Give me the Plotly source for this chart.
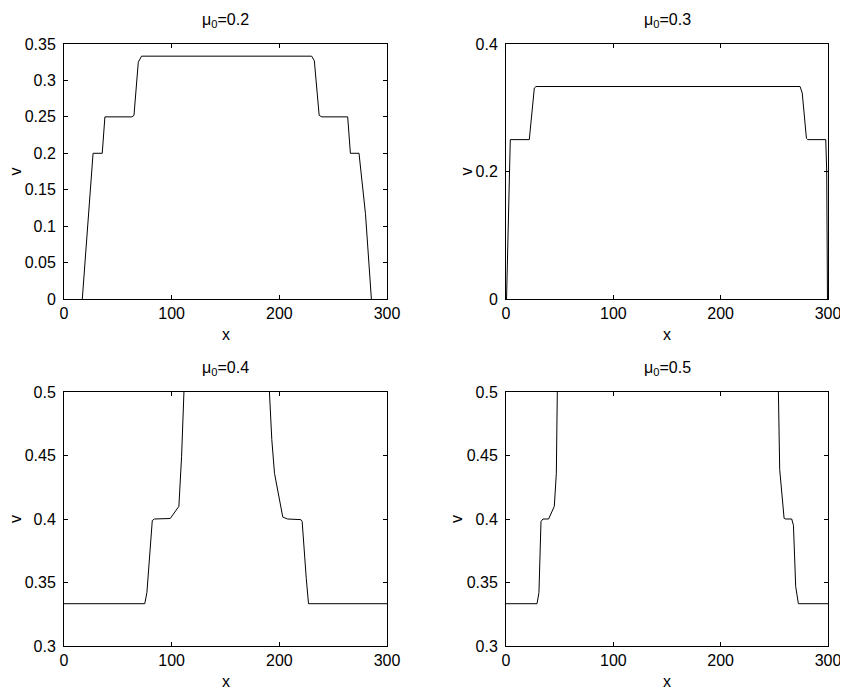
import plotly.graph_objects as go

# ---- data ----
x_mu02 = [17, 27, 35.5, 38, 63, 65, 69, 72, 230, 232.5, 237, 239.5, 263.5, 266, 274, 280, 285.5]
v_mu02 = [0, 0.2, 0.2, 0.25, 0.25, 0.252, 0.325, 0.3333, 0.3333, 0.327, 0.252, 0.25, 0.25, 0.2, 0.2, 0.117, 0]

x_mu03 = [0.5, 4, 21.7, 24, 26.4, 28, 274, 276, 279.9, 281, 297.9, 298.8, 299.5]
v_mu03 = [0, 0.25, 0.25, 0.29, 0.331, 0.3333, 0.3333, 0.323, 0.252, 0.25, 0.25, 0.2, 0]

x_mu04 = [0, 75, 77, 82, 84, 98.7, 106.7, 109.2, 111.4, 112.5, 189.7, 190.8, 193, 195.5, 203.2, 207.6, 220, 221.2, 225, 227.1, 300]
v_mu04 = [0.3333, 0.3333, 0.342, 0.3988, 0.4, 0.4004, 0.41, 0.449, 0.5, 0.55, 0.55, 0.5, 0.4625, 0.436, 0.4015, 0.4, 0.3995, 0.398, 0.3533, 0.3333, 0.3333]

x_mu05 = [0, 28.9, 30.7, 32.6, 34.4, 39.7, 45, 46.9, 47.8, 48.5, 252.8, 253.5, 255, 259.1, 260.6, 266.2, 267.8, 269.9, 272.4, 300]
v_mu05 = [0.3333, 0.3333, 0.342, 0.398, 0.4, 0.4, 0.41, 0.436, 0.5, 0.55, 0.55, 0.5, 0.439, 0.4005, 0.4, 0.4, 0.395, 0.3468, 0.3333, 0.3333]

titles = ["μ<sub>0</sub>=0.2", "μ<sub>0</sub>=0.3", "μ<sub>0</sub>=0.4", "μ<sub>0</sub>=0.5"]
x_ticks = [0, 100, 200, 300]
x_ticktext = ["0", "100", "200", "300"]
y_ticks = [
    [0, 0.05, 0.1, 0.15, 0.2, 0.25, 0.3, 0.35],
    [0, 0.2, 0.4],
    [0.3, 0.35, 0.4, 0.45, 0.5],
    [0.3, 0.35, 0.4, 0.45, 0.5],
]
y_ticktext = [
    ["0", "0.05", "0.1", "0.15", "0.2", "0.25", "0.3", "0.35"],
    ["0", "0.2", "0.4"],
    ["0.3", "0.35", "0.4", "0.45", "0.5"],
    ["0.3", "0.35", "0.4", "0.45", "0.5"],
]
y_ranges = [[0, 0.35], [0, 0.4], [0.3, 0.5], [0.3, 0.5]]

series = [(x_mu02, v_mu02), (x_mu03, v_mu03), (x_mu04, v_mu04), (x_mu05, v_mu05)]

OFF = 8  # page body margin of the html page
W, H = 848 - OFF, 692 - OFF
# pixel boxes of the four panels in the window: (left, right, top, bottom)
boxes = [(64, 387, 44, 299), (506, 828, 44, 299), (64, 387, 392, 646), (506, 828, 392, 646)]
ylabel_x = [15, 466, 15, 456]

FONT = "Helvetica, Liberation Sans, Arial, sans-serif"
fig = go.Figure()
layout = dict(
    width=W, height=H,
    margin=dict(l=0, r=0, t=0, b=0, pad=0, autoexpand=False),
    paper_bgcolor="white", plot_bgcolor="white",
    showlegend=False,
    font=dict(family=FONT, size=16, color="black"),
    annotations=[],
)

def px(xp):
    return (xp - OFF) / W

def py(yp):
    return 1 - (yp - OFF) / H

for i, (xs, vs) in enumerate(series):
    n = "" if i == 0 else str(i + 1)
    l, r, t, b = boxes[i]
    fig.add_trace(go.Scatter(x=xs, y=vs, mode="lines",
                             line=dict(color="black", width=1),
                             xaxis="x" + n, yaxis="y" + n, hoverinfo="skip"))
    common = dict(showline=True, linecolor="black", linewidth=1, mirror="ticks",
                  ticks="inside", ticklen=4, tickwidth=1, tickcolor="black",
                  showgrid=False, zeroline=False, automargin=False,
                  tickfont=dict(family=FONT, size=16, color="black"))
    layout["xaxis" + n] = dict(common, domain=[px(l), px(r)], range=[0, 300],
                                tickvals=x_ticks, ticktext=x_ticktext,
                                anchor="y" + n, ticklabelstandoff=0)
    layout["yaxis" + n] = dict(common, domain=[py(b), py(t)],
                                range=y_ranges[i], tickvals=y_ticks[i],
                                ticktext=y_ticktext[i], anchor="x" + n,
                                ticklabelstandoff=4)
    cx = (l + r) / 2
    layout["annotations"].append(dict(text=titles[i], x=px(cx), y=py(t - 24),
                                      xref="paper", yref="paper", showarrow=False,
                                      xanchor="center", yanchor="middle",
                                      font=dict(family=FONT, size=16, color="black")))
    layout["annotations"].append(dict(text="x", x=px(cx), y=py(b + 35),
                                      xref="paper", yref="paper", showarrow=False,
                                      xanchor="center", yanchor="middle",
                                      font=dict(family=FONT, size=16, color="black")))
    layout["annotations"].append(dict(text="v", x=px(ylabel_x[i]), y=py((t + b) / 2),
                                      xref="paper", yref="paper", showarrow=False,
                                      xanchor="center", yanchor="middle", textangle=-90,
                                      font=dict(family=FONT, size=16, color="black")))

fig.update_layout(**layout)
fig.write_html("out.html")
